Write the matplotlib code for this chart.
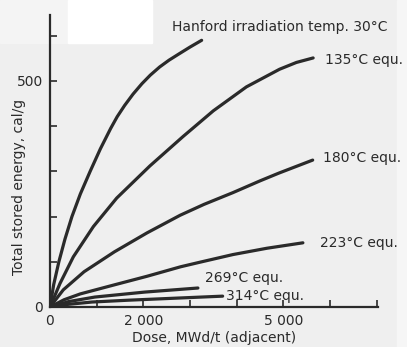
import numpy as np
import matplotlib
matplotlib.use("Agg")
import matplotlib.pyplot as plt
import matplotlib.ticker as ticker
from matplotlib.patches import Rectangle

# dose (MWd/t) and stored energy (cal/g)
dose_30 = [0, 80, 190, 320, 470, 650, 860, 1080, 1300, 1440, 1600, 1780,
           1970, 2150, 2350, 2550, 2750, 3000, 3250]
energy_30 = [0, 50, 100, 150, 200, 250, 300, 350, 395, 421, 446, 471,
             494, 513, 531, 546, 559, 575, 590]

dose_135 = [0, 214, 500, 930, 1430, 2140, 2850, 3500, 4210, 4920, 5280, 5640]
energy_135 = [0, 52, 111, 178, 241, 312, 377, 434, 487, 526, 541, 551]

dose_180 = [0, 285, 730, 1380, 2080, 2790, 3300, 3920, 4500, 4900, 5630]
energy_180 = [0, 38, 78, 122, 164, 203, 227, 253, 279, 296, 325]

dose_223 = [0, 300, 650, 1380, 2080, 2800, 3210, 3920, 4650, 5420]
energy_223 = [0, 16, 29, 49, 68, 89, 99, 116, 130, 142]

dose_269 = [0, 400, 960, 2030, 3170]
energy_269 = [0, 12, 22, 33, 42]

dose_314 = [0, 400, 900, 1670, 3700]
energy_314 = [0, 6, 11, 15, 24]

labels = ["Hanford irradiation temp. 30°C", "135°C equ.", "180°C equ.",
          "223°C equ.", "269°C equ.", "314°C equ."]

bg = "#efefef"
ink = "#2a2a2a"
fs = 10

fig = plt.figure(figsize=(4.07, 3.47), dpi=100, facecolor=bg)
# scan artefacts: white patch top left, lighter margins (behind the axes)
for (x0, y0, w, h, c) in [(0, 304, 68, 43, "#f4f4f4"), (68, 304, 84, 43, "white"),
                          (397, 0, 10, 347, "#f6f6f6")]:
    fig.patches.append(Rectangle((x0/407, y0/347), w/407, h/347,
                                 transform=fig.transFigure, color=c, zorder=-10))
ax = fig.add_axes([50/407, 40/347, 328/407, 292/347])
ax.set_facecolor("none")

series = [(dose_30, energy_30), (dose_135, energy_135), (dose_180, energy_180),
          (dose_223, energy_223), (dose_269, energy_269), (dose_314, energy_314)]
for d, e in series:
    ax.plot(d, e, color=ink, lw=2.3, solid_capstyle="round", solid_joinstyle="round")

# labels next to the curve ends
lab_pos = [(2620, 619), (5900, 546), (5850, 330), (5780, 142), (3320, 64), (3770, 24)]
for (lx, ly), t in zip(lab_pos, labels):
    ax.text(lx, ly, t, fontsize=fs, color=ink, va="center", ha="left", clip_on=False)

ax.set_xlim(0, 7030)
ax.set_ylim(0, 646)
for s in ["top", "right"]:
    ax.spines[s].set_visible(False)
for s in ["left", "bottom"]:
    ax.spines[s].set_linewidth(1.6)
    ax.spines[s].set_color(ink)

ax.xaxis.set_major_locator(ticker.MultipleLocator(1000))
ax.yaxis.set_major_locator(ticker.MultipleLocator(100))
ax.xaxis.set_major_formatter(ticker.FuncFormatter(
    lambda v, p: {0: "0", 2000: "2 000", 5000: "5 000"}.get(int(round(v)), "")))
ax.yaxis.set_major_formatter(ticker.FuncFormatter(
    lambda v, p: {0: "0", 500: "500"}.get(int(round(v)), "")))
ax.tick_params(direction="in", length=5, width=1.2, color=ink,
               labelsize=fs, labelcolor=ink)
ax.tick_params(axis="y", pad=5)
ax.tick_params(axis="x", pad=5)

ax.set_xlabel("Dose, MWd/t (adjacent)", fontsize=fs, color=ink)
ax.set_ylabel("Total stored energy, cal/g", fontsize=fs, color=ink)
ax.xaxis.set_label_coords(0.5, -0.083)
ax.yaxis.set_label_coords(-0.094, 0.41)
ax.yaxis.label.set_va("center")

fig.savefig("out.png", dpi=100, facecolor=bg)
